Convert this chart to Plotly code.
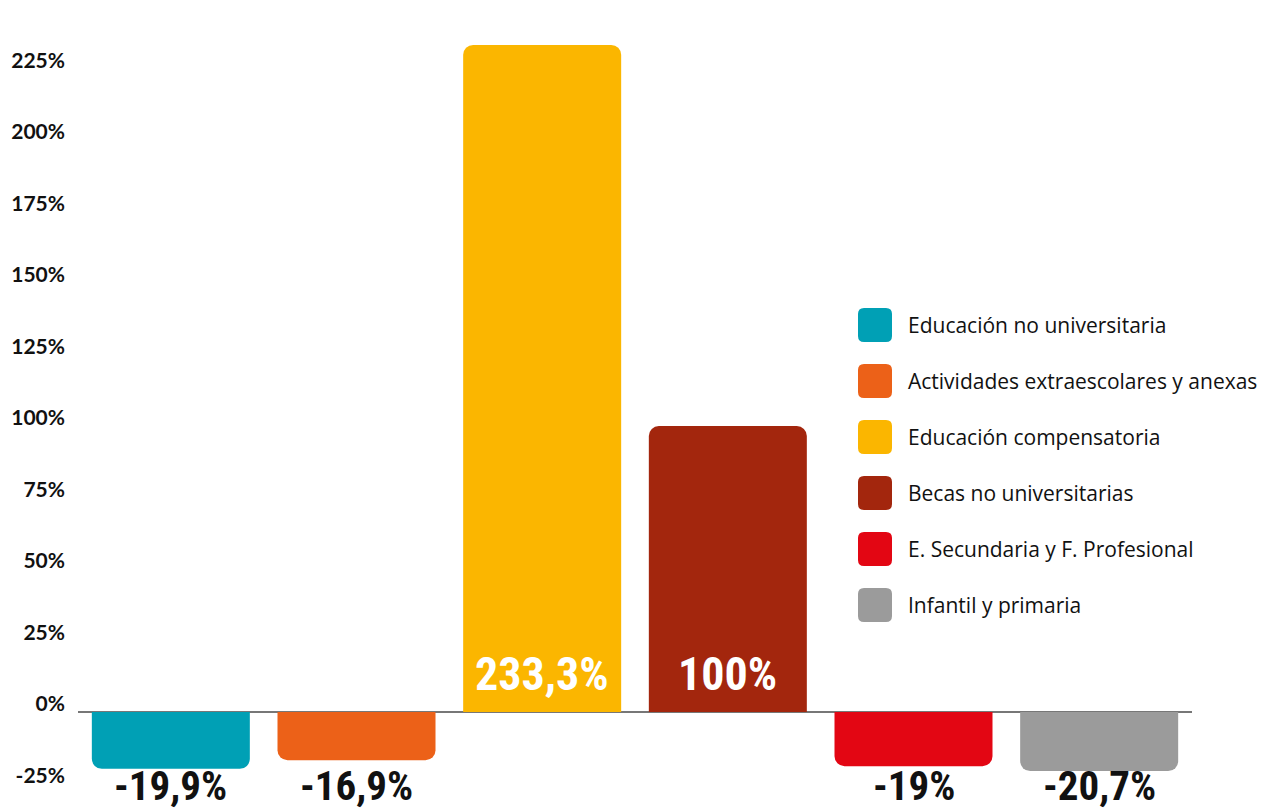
import plotly.graph_objects as go

categories = [
    "Educación no universitaria",
    "Actividades extraescolares y anexas",
    "Educación compensatoria",
    "Becas no universitarias",
    "E. Secundaria y F. Profesional",
    "Infantil y primaria",
]
values = [-19.9, -16.9, 233.3, 100, -19, -20.7]
colors = ["#00A0B5", "#EC6118", "#FBB600", "#A3260D", "#E30613", "#9B9B9B"]
tick_vals = [-25, 0, 25, 50, 75, 100, 125, 150, 175, 200, 225]
tick_text = [f"{v}%" for v in tick_vals]

# page body has an 8px default margin; size the figure to fill the window
W, H = 1263, 804
ML, MR, MT, MB = 70, 79, 0, 0
Y_RANGE = [-35.0, 246.2]


def fmt(v):
    s = f"{v:.1f}".rstrip("0").rstrip(".")
    return s.replace(".", ",") + "%"


fig = go.Figure()
fig.add_trace(go.Bar(
    x=categories, y=values,
    marker=dict(color=colors, line=dict(width=0)),
    showlegend=False, hoverinfo="skip",
))

label_family = "Roboto Condensed, Oswald, Bebas Neue, Liberation Sans Narrow, Roboto, sans-serif"
annotations = []
for c, v in zip(categories, values):
    if v >= 0:
        annotations.append(dict(
            x=c, y=0, xref="x", yref="y", text=fmt(v), showarrow=False,
            yanchor="bottom", yshift=9,
            font=dict(color="white", family=label_family, size=46, weight="bold"),
        ))
    else:
        annotations.append(dict(
            x=c, y=0, xref="x", yref="paper", text=fmt(v), showarrow=False,
            yanchor="bottom", yshift=0,
            font=dict(color="#111111", family=label_family, size=41, weight="bold"),
        ))

# custom legend (rounded swatches + text)
plot_w = W - ML - MR
plot_h = H - MT - MB
sw_cx_px = 867
txt_x_px = 898
sz, r = 34, 6
h = sz / 2
path = (f"M{-h + r},{-h} L{h - r},{-h} Q{h},{-h} {h},{-h + r} "
        f"L{h},{h - r} Q{h},{h} {h - r},{h} L{-h + r},{h} Q{-h},{h} {-h},{h - r} "
        f"L{-h},{-h + r} Q{-h},{-h} {-h + r},{-h} Z")
shapes = []
for i, (c, col) in enumerate(zip(categories, colors)):
    cy_px = 317 + 56 * i
    py = 1 - (cy_px - MT) / plot_h
    px = (sw_cx_px - ML) / plot_w
    shapes.append(dict(
        type="path", xref="paper", yref="paper",
        xsizemode="pixel", ysizemode="pixel", xanchor=px, yanchor=py,
        path=path, fillcolor=col, line=dict(width=0), layer="above",
    ))
    annotations.append(dict(
        x=(txt_x_px - ML) / plot_w, y=py, xref="paper", yref="paper",
        text=c, showarrow=False, xanchor="left", yanchor="middle",
        font=dict(family="Open Sans, Lato, sans-serif", size=21, color="#111111"),
    ))

fig.update_layout(
    width=W, height=H,
    margin=dict(l=ML, r=MR, t=MT, b=MB),
    paper_bgcolor="white", plot_bgcolor="white",
    bargap=0.149,
    barcornerradius=10,
    xaxis=dict(showticklabels=False, showgrid=False, zeroline=False,
               showline=False, ticks=""),
    yaxis=dict(range=Y_RANGE, tickvals=tick_vals, ticktext=tick_text,
               showgrid=False, zeroline=True, zerolinecolor="#777777",
               zerolinewidth=1.5, showline=False, ticks="",
               ticklabelstandoff=12, ticklabelshift=-8,
               tickfont=dict(family="Lato, Open Sans, sans-serif", size=21,
                             color="#111111", weight="bold")),
    annotations=annotations,
    shapes=shapes,
    showlegend=False,
)

fig.write_html("out.html")
